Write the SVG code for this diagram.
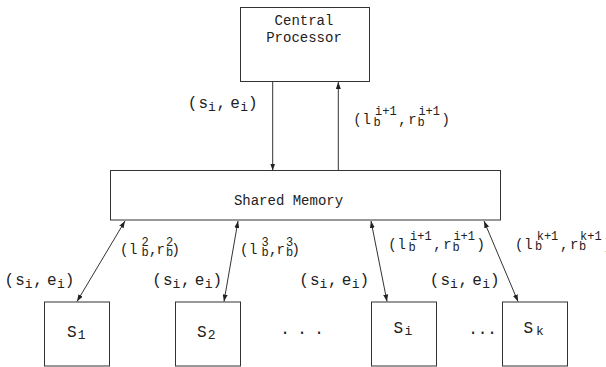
<svg xmlns="http://www.w3.org/2000/svg" width="606" height="367" viewBox="0 0 606 367">
<style>
.box{fill:#fff;stroke:#333;stroke-width:1}
.con{stroke:#333;stroke-width:1;fill:none}
text{font-family:"Liberation Mono","DejaVu Sans Mono",monospace;fill:#222}
.lbl{text-anchor:middle;font-size:16px}
.lb{text-anchor:middle;font-size:14px}
.s13{font-size:13px}
.s12{font-size:12px}
.nt{text-anchor:middle;font-size:14px}
</style>
<defs>
<marker id="ah" markerUnits="userSpaceOnUse" markerWidth="7" markerHeight="5" refX="7" refY="2.5" orient="auto-start-reverse">
<path d="M0,0 L7,2.5 L0,5 z" fill="#222"/>
</marker>
</defs>
<g id="connectors">
<line class="con" x1="272.7" y1="82" x2="272.7" y2="170.5" marker-end="url(#ah)"/>
<line class="con" x1="338.3" y1="170.5" x2="338.3" y2="82" marker-end="url(#ah)"/>
<line class="con" x1="125" y1="221" x2="77" y2="301.5" marker-start="url(#ah)" marker-end="url(#ah)"/>
<line class="con" x1="238" y1="221" x2="224" y2="301.5" marker-start="url(#ah)" marker-end="url(#ah)"/>
<line class="con" x1="371" y1="221" x2="387" y2="301.5" marker-start="url(#ah)" marker-end="url(#ah)"/>
<line class="con" x1="484" y1="221" x2="518" y2="301.5" marker-start="url(#ah)" marker-end="url(#ah)"/>
</g>
<g id="central-processor">
<rect class="box" x="240.5" y="7.5" width="129" height="74"/>
<text class="nt" x="304" y="25">Central</text>
<text class="nt" x="304" y="41.5">Processor</text>
</g>
<g id="shared-memory">
<rect class="box" x="110.5" y="170.5" width="390" height="49.5"/>
<text class="nt" x="288.5" y="204.5">Shared Memory</text>
</g>
<g id="s1">
<rect class="box" x="44.5" y="302" width="65" height="64"/>
<text class="lbl"><tspan x="71.7" y="336.5">S</tspan><tspan class="s13" x="81.7" y="338.5">1</tspan></text>
</g>
<g id="s2">
<rect class="box" x="175.5" y="302" width="65" height="64"/>
<text class="lbl"><tspan x="201.7" y="336.5">S</tspan><tspan class="s13" x="211.7" y="338.5">2</tspan></text>
</g>
<g id="si">
<rect class="box" x="371.5" y="302" width="65" height="64"/>
<text class="lbl"><tspan x="398.3" y="333">S</tspan><tspan class="s13" x="408.3" y="335">i</tspan></text>
</g>
<g id="sk">
<rect class="box" x="502.5" y="302" width="65" height="64"/>
<text class="lbl"><tspan x="528.3" y="333">S</tspan><tspan class="s13" x="540" y="335">k</tspan></text>
</g>
<g id="dots">
<text class="lbl"><tspan x="285" y="334">.</tspan><tspan x="302" y="334">.</tspan><tspan x="319" y="334">.</tspan></text>
<text class="lbl"><tspan x="473" y="334">.</tspan><tspan x="482.5" y="334">.</tspan><tspan x="492" y="334">.</tspan></text>
</g>
<g id="labels-se">
<g transform="translate(192.5,108)"><text class="lbl"><tspan x="0" y="0">(</tspan><tspan x="10.8" y="0">s</tspan><tspan class="s13" x="19.5" y="2.5">i</tspan><tspan x="28.8" y="0">,</tspan><tspan x="42.5" y="0">e</tspan><tspan class="s13" x="51.7" y="2.5">i</tspan><tspan x="60.3" y="0">)</tspan></text></g>
<g transform="translate(9.2,285)"><text class="lbl"><tspan x="0" y="0">(</tspan><tspan x="10.8" y="0">s</tspan><tspan class="s13" x="19.5" y="2.5">i</tspan><tspan x="28.8" y="0">,</tspan><tspan x="42.5" y="0">e</tspan><tspan class="s13" x="51.7" y="2.5">i</tspan><tspan x="60.3" y="0">)</tspan></text></g>
<g transform="translate(157,285)"><text class="lbl"><tspan x="0" y="0">(</tspan><tspan x="10.8" y="0">s</tspan><tspan class="s13" x="19.5" y="2.5">i</tspan><tspan x="28.8" y="0">,</tspan><tspan x="42.5" y="0">e</tspan><tspan class="s13" x="51.7" y="2.5">i</tspan><tspan x="60.3" y="0">)</tspan></text></g>
<g transform="translate(304,285)"><text class="lbl"><tspan x="0" y="0">(</tspan><tspan x="10.8" y="0">s</tspan><tspan class="s13" x="19.5" y="2.5">i</tspan><tspan x="28.8" y="0">,</tspan><tspan x="42.5" y="0">e</tspan><tspan class="s13" x="51.7" y="2.5">i</tspan><tspan x="60.3" y="0">)</tspan></text></g>
<g transform="translate(434.5,285)"><text class="lbl"><tspan x="0" y="0">(</tspan><tspan x="10.8" y="0">s</tspan><tspan class="s13" x="19.5" y="2.5">i</tspan><tspan x="28.8" y="0">,</tspan><tspan x="42.5" y="0">e</tspan><tspan class="s13" x="51.7" y="2.5">i</tspan><tspan x="60.3" y="0">)</tspan></text></g>
</g>
<g id="labels-lr">
<g transform="translate(357.5,124)"><text class="lb"><tspan x="0" y="0">(</tspan><tspan x="9.2" y="0">l</tspan><tspan class="s12" x="19.5" y="1.5">b</tspan><tspan class="s12" x="28.3" y="-9">i+1</tspan><tspan x="45" y="0">,</tspan><tspan x="55" y="0">r</tspan><tspan class="s12" x="63.5" y="1.5">b</tspan><tspan class="s12" x="71.7" y="-9">i+1</tspan><tspan x="88.3" y="0">)</tspan></text></g>
<g transform="translate(124.2,254)"><text class="lb"><tspan x="0" y="0">(</tspan><tspan x="9.1" y="0">l</tspan><tspan class="s12" x="20.8" y="1.5">b</tspan><tspan class="s12" x="20.8" y="-8.5">2</tspan><tspan x="29.1" y="0">,</tspan><tspan x="36.6" y="0">r</tspan><tspan class="s12" x="45.4" y="1.5">b</tspan><tspan class="s12" x="45.4" y="-8.5">2</tspan><tspan x="51.6" y="0">)</tspan></text></g>
<g transform="translate(244.2,254)"><text class="lb"><tspan x="0" y="0">(</tspan><tspan x="9.1" y="0">l</tspan><tspan class="s12" x="20.8" y="1.5">b</tspan><tspan class="s12" x="20.8" y="-8.5">3</tspan><tspan x="29.1" y="0">,</tspan><tspan x="36.6" y="0">r</tspan><tspan class="s12" x="45.4" y="1.5">b</tspan><tspan class="s12" x="45.4" y="-8.5">3</tspan><tspan x="51.6" y="0">)</tspan></text></g>
<g transform="translate(392.5,249)"><text class="lb"><tspan x="0" y="0">(</tspan><tspan x="9.2" y="0">l</tspan><tspan class="s12" x="19.5" y="1.5">b</tspan><tspan class="s12" x="28.3" y="-9">i+1</tspan><tspan x="45" y="0">,</tspan><tspan x="55" y="0">r</tspan><tspan class="s12" x="63.5" y="1.5">b</tspan><tspan class="s12" x="71.7" y="-9">i+1</tspan><tspan x="88.3" y="0">)</tspan></text></g>
<g transform="translate(519.2,248.5)"><text class="lb"><tspan x="0" y="0">(</tspan><tspan x="9.2" y="0">l</tspan><tspan class="s12" x="19.5" y="1.5">b</tspan><tspan class="s12" x="28.3" y="-9">k+1</tspan><tspan x="45" y="0">,</tspan><tspan x="55" y="0">r</tspan><tspan class="s12" x="63.5" y="1.5">b</tspan><tspan class="s12" x="71.7" y="-9">k+1</tspan><tspan x="88.3" y="0">)</tspan></text></g>
</g>
</svg>
